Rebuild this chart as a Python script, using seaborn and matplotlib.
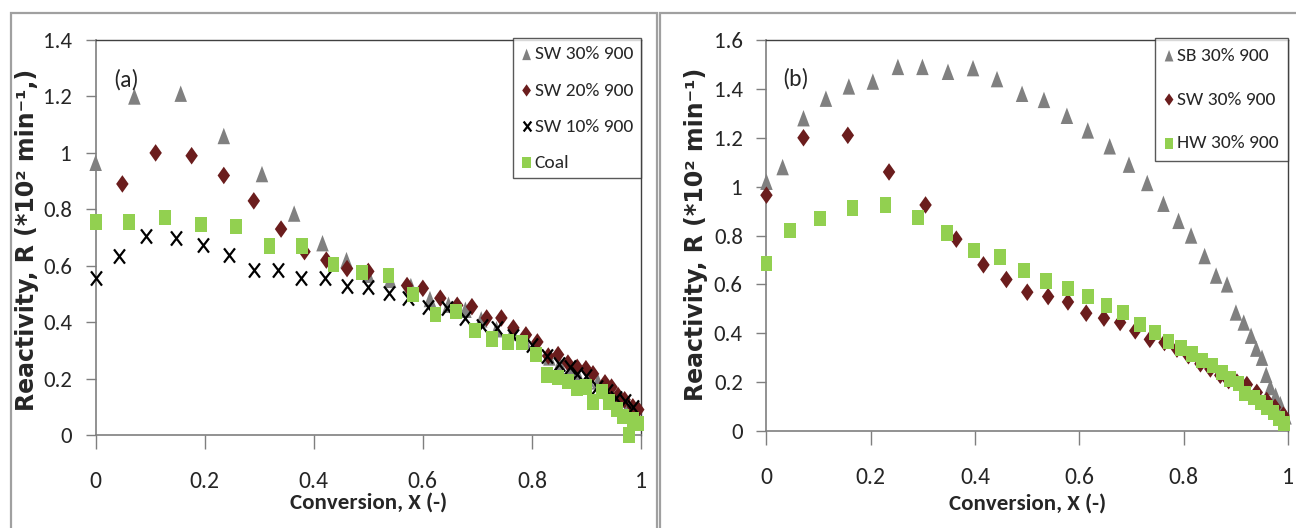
import numpy as np
import pandas as pd
import matplotlib
matplotlib.use('Agg')
import matplotlib.pyplot as plt
import seaborn as sns
from matplotlib import font_manager
from matplotlib.markers import MarkerStyle
from matplotlib.transforms import Affine2D
from matplotlib.patches import Rectangle

# ---- data ----
# (a) left panel
sw30_x = [0, 0.071, 0.156, 0.235, 0.305, 0.364, 0.416, 0.46, 0.50, 0.54, 0.578, 0.613, 0.647, 0.678,
          0.707, 0.735, 0.763, 0.787, 0.809, 0.832, 0.851, 0.87, 0.886, 0.902, 0.921, 0.94, 0.959, 0.975, 0.991]
sw30_r = [0.965, 1.20, 1.21, 1.06, 0.925, 0.785, 0.68, 0.62, 0.568, 0.55, 0.528, 0.482, 0.462, 0.444,
          0.41, 0.375, 0.362, 0.335, 0.308, 0.275, 0.254, 0.228, 0.206, 0.20, 0.19, 0.158, 0.125, 0.097, 0.065]

sw20_x = [0.049, 0.11, 0.176, 0.235, 0.29, 0.34, 0.383, 0.423, 0.461, 0.50, 0.571, 0.60, 0.632, 0.663, 0.69,
          0.717, 0.744, 0.766, 0.789, 0.81, 0.83, 0.848, 0.866, 0.883, 0.899, 0.912, 0.934, 0.946, 0.958,
          0.97, 0.985, 0.995]
sw20_r = [0.89, 1.00, 0.99, 0.92, 0.83, 0.73, 0.65, 0.62, 0.59, 0.58, 0.53, 0.52, 0.485, 0.46, 0.455,
          0.415, 0.415, 0.38, 0.355, 0.33, 0.28, 0.285, 0.255, 0.24, 0.235, 0.217, 0.185, 0.17, 0.14,
          0.125, 0.10, 0.09]

sw10_x = [0, 0.042, 0.093, 0.147, 0.196, 0.245, 0.29, 0.335, 0.377, 0.42, 0.46, 0.50, 0.537, 0.573, 0.61,
          0.645, 0.678, 0.709, 0.736, 0.765, 0.80, 0.828, 0.85, 0.87, 0.883, 0.90, 0.92, 0.937, 0.955, 0.97, 0.985]
sw10_r = [0.555, 0.635, 0.705, 0.70, 0.673, 0.637, 0.585, 0.585, 0.558, 0.558, 0.53, 0.523, 0.505, 0.487,
          0.455, 0.45, 0.415, 0.385, 0.38, 0.35, 0.32, 0.28, 0.25, 0.24, 0.215, 0.21, 0.17, 0.155, 0.13, 0.12, 0.10]

coal_x = [0, 0.061, 0.127, 0.193, 0.258, 0.319, 0.379, 0.436, 0.489, 0.537, 0.582, 0.623, 0.661, 0.696,
          0.727, 0.756, 0.782, 0.808, 0.828, 0.848, 0.866, 0.883, 0.899, 0.912, 0.929, 0.941, 0.956, 0.967,
          0.978, 0.985, 0.994]
coal_r = [0.755, 0.755, 0.77, 0.745, 0.74, 0.67, 0.67, 0.605, 0.575, 0.565, 0.498, 0.427, 0.437, 0.37,
          0.34, 0.33, 0.328, 0.285, 0.213, 0.203, 0.19, 0.167, 0.17, 0.117, 0.153, 0.117, 0.09, 0.065,
          0.0, 0.055, 0.04]

# (b) right panel
sb30_x = [0, 0.031, 0.071, 0.114, 0.158, 0.204, 0.252, 0.299, 0.348, 0.396, 0.442, 0.49, 0.532, 0.576,
          0.616, 0.658, 0.695, 0.73, 0.761, 0.79, 0.814, 0.84, 0.862, 0.883, 0.90, 0.915, 0.929, 0.939,
          0.95, 0.958, 0.966, 0.976, 0.985, 0.995]
sb30_r = [1.02, 1.08, 1.28, 1.36, 1.41, 1.43, 1.49, 1.49, 1.47, 1.485, 1.44, 1.38, 1.355, 1.29,
          1.23, 1.165, 1.09, 1.015, 0.93, 0.86, 0.80, 0.716, 0.636, 0.60, 0.485, 0.444, 0.39, 0.337,
          0.30, 0.23, 0.18, 0.145, 0.11, 0.06]

hw30_x = [0, 0.045, 0.103, 0.165, 0.228, 0.29, 0.346, 0.398, 0.448, 0.494, 0.536, 0.578, 0.616, 0.652,
          0.684, 0.716, 0.745, 0.771, 0.795, 0.816, 0.835, 0.855, 0.873, 0.889, 0.905, 0.918, 0.934, 0.947,
          0.959, 0.972, 0.983, 0.992]
hw30_r = [0.685, 0.82, 0.87, 0.913, 0.925, 0.875, 0.81, 0.74, 0.712, 0.658, 0.614, 0.583, 0.549, 0.512,
          0.485, 0.437, 0.403, 0.365, 0.34, 0.315, 0.29, 0.267, 0.24, 0.213, 0.193, 0.152, 0.138, 0.118,
          0.097, 0.077, 0.05, 0.032]

left_ticks = [0, 0.2, 0.4, 0.6, 0.8, 1, 1.2, 1.4]
right_ticks = [0, 0.2, 0.4, 0.6, 0.8, 1, 1.2, 1.4, 1.6]
x_ticks = [0, 0.2, 0.4, 0.6, 0.8, 1]
x_ticklabels = ['0', '0.2', '0.4', '0.6', '0.8', '1']

sns.set_style('white')
names = {f.name for f in font_manager.fontManager.ttflist}
narrow = 'Liberation Sans'
for cand in ['Carlito', 'PT Sans Narrow', 'Roboto Condensed', 'Liberation Sans Narrow']:
    if cand in names:
        narrow = cand
        break
plt.rcParams['font.family'] = [narrow, 'DejaVu Sans']

GRAY = '#808080'
RED = '#6b1d1d'
GREEN = '#92d050'

tri = MarkerStyle('^', transform=Affine2D().scale(0.76, 1.0))
dia = MarkerStyle('D', transform=Affine2D().scale(0.71, 1.0))
cross = MarkerStyle('x', transform=Affine2D().scale(0.77, 1.0))
sq = MarkerStyle('s', transform=Affine2D().scale(0.77, 1.0))

fig = plt.figure(figsize=(12.96, 5.28), dpi=100)
ax1 = fig.add_axes([0.0738, 0.1761, 0.4208, 0.748])
ax2 = fig.add_axes([0.5914, 0.1837, 0.4025, 0.7405])


def pts(ax, x, y, marker, color, label, size, **kw):
    sns.scatterplot(x=x, y=y, ax=ax, marker=marker, s=size, color=color, label=label,
                    clip_on=False, zorder=3, **kw)


pts(ax1, sw30_x, sw30_r, tri, GRAY, 'SW 30% 900', 140, edgecolor='none')
pts(ax1, sw20_x, sw20_r, dia, RED, 'SW 20% 900', 80, edgecolor='none')
pts(ax1, sw10_x, sw10_r, cross, 'black', 'SW 10% 900', 105, linewidth=1.6)
pts(ax1, coal_x, coal_r, sq, GREEN, 'Coal', 120, edgecolor='none')

pts(ax2, sb30_x, sb30_r, tri, GRAY, 'SB 30% 900', 140, edgecolor='none')
pts(ax2, sw30_x, sw30_r, dia, RED, 'SW 30% 900', 80, edgecolor='none')
pts(ax2, hw30_x, hw30_r, sq, GREEN, 'HW 30% 900', 120, edgecolor='none')

for ax, yt, ymax, ylab, tag in [
        (ax1, left_ticks, 1.4, 'Reactivity, R (*10² min⁻¹,)', '(a)'),
        (ax2, right_ticks, 1.6, 'Reactivity, R (*10² min⁻¹)', '(b)')]:
    ax.set_xlim(0, 1)
    ax.set_ylim(0, ymax)
    ax.set_xticks(x_ticks)
    ax.set_xticklabels(x_ticklabels)
    ax.set_yticks(yt)
    ax.set_yticklabels([('%g' % t) for t in yt])
    for s in ['left', 'bottom']:
        ax.spines[s].set_color('#7f7f7f')
        ax.spines[s].set_linewidth(1.2)
    for s in ['top', 'right']:
        ax.spines[s].set_color('#404040')
        ax.spines[s].set_linewidth(1.0)
    ax.tick_params(axis='x', direction='out', length=10, width=1, color='#7f7f7f',
                   labelsize=17, pad=16, bottom=True)
    ax.tick_params(axis='y', direction='out', length=7, width=1, color='#7f7f7f',
                   labelsize=16.5, pad=10, left=True)
    ax.set_xlabel('Conversion, X (-)', fontsize=16.5, fontweight='bold')
    ax.set_ylabel(ylab, fontsize=17, fontweight='bold', family='DejaVu Sans')
    ax.text(0.055, 0.9, tag, transform=ax.transAxes, fontsize=17, ha='center', va='center')

ax1.xaxis.set_label_coords(0.5, -0.147)
ax2.xaxis.set_label_coords(0.5, -0.159)
ax1.yaxis.set_label_coords(-0.103, 0.495)
ax2.yaxis.set_label_coords(-0.112, 0.502)

leg1 = ax1.legend(loc='upper right', bbox_to_anchor=(1.0, 1.005), borderaxespad=0,
                  fontsize=14, labelspacing=1.0, handletextpad=0.15, handlelength=0.55,
                  borderpad=0.4, markerscale=0.7, fancybox=False, frameon=True)
leg2 = ax2.legend(loc='upper right', bbox_to_anchor=(1.0, 1.005), borderaxespad=0,
                  fontsize=14, labelspacing=1.4, handletextpad=0.15, handlelength=0.55,
                  borderpad=0.47, markerscale=0.7, fancybox=False, frameon=True)
for leg in (leg1, leg2):
    leg.get_frame().set_edgecolor('#303030')
    leg.get_frame().set_linewidth(1.0)

# panel frames
fig.add_artist(Rectangle((10.5 / 1296, -0.05), (657 - 10.5) / 1296, 0.9754 + 0.05,
                         transform=fig.transFigure, fill=False, ec='#a0a0a0', lw=1.6))
fig.add_artist(Rectangle((659.5 / 1296, -0.05), 0.6, 0.9754 + 0.05,
                         transform=fig.transFigure, fill=False, ec='#a0a0a0', lw=1.6))

fig.savefig('out.png', dpi=100)
